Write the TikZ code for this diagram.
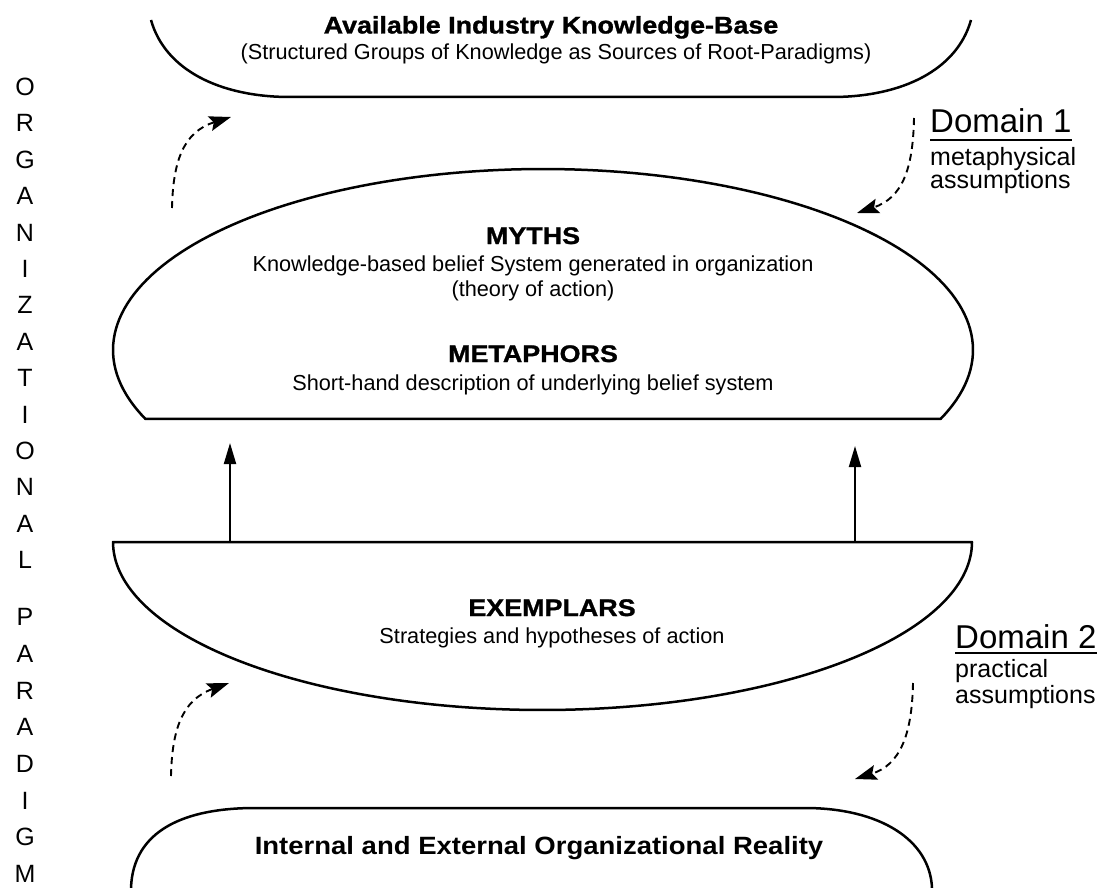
\documentclass[tikz,border=0pt]{standalone}
\usepackage{fontspec}
\setmainfont{Liberation Sans}
\newfontfamily\headfont[FakeStretch=1.12, BoldFeatures={FakeBold=1.2}]{Liberation Sans}
\newfontfamily\realfont[FakeStretch=1.1]{Liberation Sans}
\usetikzlibrary{arrows.meta}

\begin{document}
\begin{tikzpicture}[x=1pt,y=-1pt,
  outline/.style={line width=2.5pt, line join=round},
  liftarrow/.style={line width=2pt, -{Triangle[length=21pt,width=12pt]}},
  flowarrow/.style={line width=1.9pt, dash pattern=on 7pt off 5pt, -{Stealth[length=22pt,width=15pt,inset=4pt]}},
  heading/.style={font=\headfont\bfseries\fontsize{24}{28}\selectfont, inner sep=0pt, anchor=base},
  realhead/.style={font=\realfont\bfseries\fontsize{25}{29}\selectfont, inner sep=0pt, anchor=base},
  body/.style={font=\fontsize{21.7}{26}\selectfont, inner sep=0pt, anchor=base},
  domlabel/.style={font=\fontsize{33}{38}\selectfont, inner sep=0pt, anchor=base west},
  domnote/.style={font=\fontsize{25}{30}\selectfont, inner sep=0pt, anchor=base west},
  spine/.style={font=\fontsize{25}{30}\selectfont, inner sep=0pt},
  underl/.style={line width=2.4pt}
]
\path[use as bounding box] (0,0) rectangle (1111,888);

% ---- knowledge-base bowl (top)
\draw[outline] (151,20) .. controls (165,70) and (220,97) .. (290,97)
  -- (832,97) .. controls (902,97) and (957,70) .. (971,20);
\node[heading] (kbtitle) at (551,33.5) {Available Industry Knowledge-Base};
\node[body] (kbsub) at (556,60) {(Structured Groups of Knowledge as Sources of Root-Paradigms)};

% ---- myths / metaphors dome
\draw[outline] plot[domain=22.4:-202.4, samples=140] ({543+430*cos(\x)},{350+181*sin(\x)}) -- cycle;
\node[heading] (myths) at (533,244) {MYTHS};
\node[body] (mythsA) at (533,271) {Knowledge-based belief System generated in organization};
\node[body] (mythsB) at (533,296) {(theory of action)};
\node[heading] (metaph) at (533,362) {METAPHORS};
\node[body] (metaphA) at (533,390) {Short-hand description of underlying belief system};

% ---- exemplars bowl
\draw[outline] plot[domain=0:180, samples=140] ({542.5+429.5*cos(\x)},{542+168*sin(\x)}) -- cycle;
\node[heading] (exempl) at (552,616) {EXEMPLARS};
\node[body] (exemplA) at (552,643) {Strategies and hypotheses of action};

% ---- reality dome (bottom)
\draw[outline] (131,888) .. controls (133,830) and (185,808) .. (255,808)
  -- (805,808) .. controls (880,808) and (930,840) .. (932,888);
\node[realhead] (reality) at (539,854) {Internal and External Organizational Reality};

% ---- exemplars feed the dome
\coordinate (liftLa) at (230,542);
\coordinate (liftLb) at (230,443);
\coordinate (liftRa) at (855,542);
\coordinate (liftRb) at (855,446);
\draw[liftarrow] (liftLa) -- (liftLb);
\draw[liftarrow] (liftRa) -- (liftRb);

% ---- dashed cycles
\coordinate (upA) at (172,208);  \coordinate (upB) at (231,117);
\coordinate (dnA) at (914,118);  \coordinate (dnB) at (857,213);
\coordinate (up2A) at (171,776); \coordinate (up2B) at (229,683);
\coordinate (dn2A) at (913,683); \coordinate (dn2B) at (855,779);
\draw[flowarrow] (upA) .. controls (173,162) and (183,132) .. (upB);
\draw[flowarrow] (dnA) .. controls (913,170) and (902,198) .. (dnB);
\draw[flowarrow] (up2A) .. controls (172,730) and (182,700) .. (up2B);
\draw[flowarrow] (dn2A) .. controls (912,735) and (900,765) .. (dn2B);

% ---- domain labels
\node[domlabel] (dom1) at (930,133) {Domain 1};
\draw[underl] ([yshift=-7pt]dom1.base west) -- ([yshift=-7pt]dom1.base east);
\node[domnote] (dom1a) at (930,165) {metaphysical};
\node[domnote] (dom1b) at (930,188) {assumptions};

\node[domlabel] (dom2) at (955,648) {Domain 2};
\draw[underl] ([yshift=-5pt]dom2.base west) -- ([yshift=-5pt]dom2.base east);
\node[domnote] (dom2a) at (955,677) {practical};
\node[domnote] (dom2b) at (955,703) {assumptions};

% ---- vertical caption
\foreach \ch/\yy [count=\i] in {O/87,R/123.4,G/159.8,A/196.1,N/232.5,I/268.9,Z/305.3,
  A/341.7,T/378,I/414.4,O/450.8,N/487.2,A/523.6,L/560,
  P/617,A/653.7,R/690.4,A/727.1,D/763.9,I/800.6,G/837.3,M/874}
  \node[spine] (cap\i) at (25,\yy) {\ch};
\end{tikzpicture}
\end{document}
